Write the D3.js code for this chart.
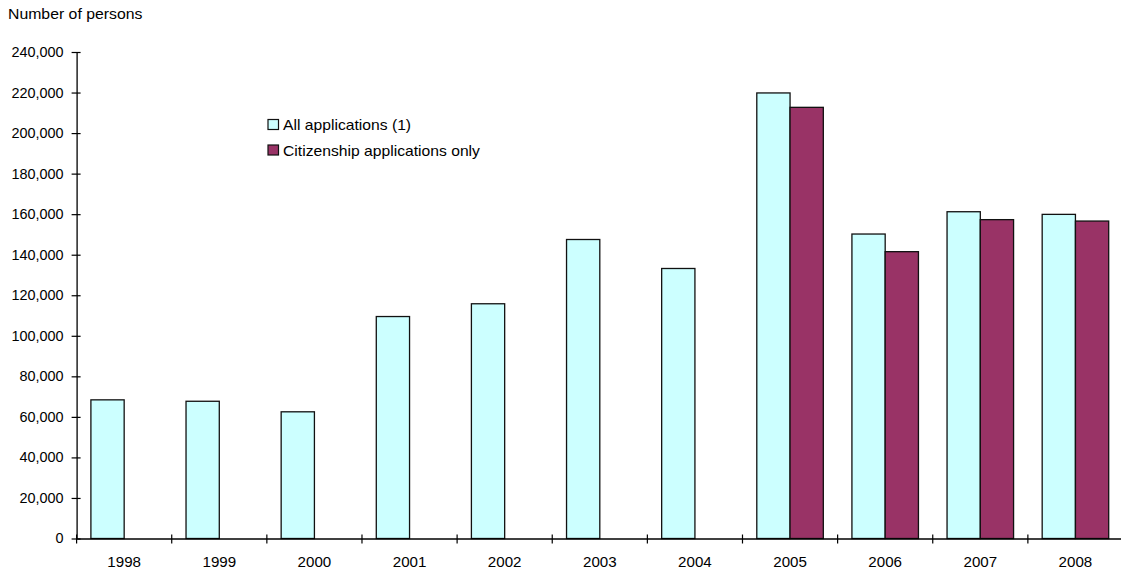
<!DOCTYPE html>
<html>
<head>
<meta charset="utf-8">
<script src="https://cdn.jsdelivr.net/npm/d3@7"></script>
<style>
  body { margin: 0; background: #fff; }
  text { font-family: "Liberation Sans", Arial, sans-serif; fill: #000; }
</style>
</head>
<body>
<div class="chart"></div>
<script>
const years = ["1998","1999","2000","2001","2002","2003","2004","2005","2006","2007","2008"];
const allApps = [68400, 67700, 62500, 109500, 115800, 147500, 133200, 219800, 150200, 161200, 159900];
const citizenApps = [null, null, null, null, null, null, null, 212700, 141500, 157300, 156600];
const seriesNames = ["All applications (1)", "Citizenship applications only"];
const seriesColors = ["#ccffff", "#993366"];
const yTicks = d3.range(0, 240001, 20000);

const width = 1121;
const height = 570;
const margin = {t:52, r:-2, b:31.5, l:76.6};
const font = "'Liberation Sans', Arial, sans-serif";

const svg = d3.select(".chart").append("svg")
  .attr("width", width)
  .attr("height", height);

const x = d3.scaleBand()
  .domain(years)
  .range([margin.l, width - margin.r])
  .paddingInner(0)
  .paddingOuter(0);

// two slots per year, 1998-2004 only fill the left one
const xSub = d3.scaleBand()
  .domain([0, 1])
  .range([0, x.bandwidth()])
  .paddingOuter(0.43)
  .paddingInner(0);

const y = d3.scaleLinear()
  .domain([0, 240000])
  .range([height - margin.b, margin.t]);

// title
svg.append("text")
  .attr("transform", "translate(8,19) scale(1.13,1)")
  .style("font-size", "14px")
  .text("Number of persons");

// bars
const rows = years.map((yr, i) => ({year: yr, vals: [allApps[i], citizenApps[i]]}));

const groups = svg.append("g").selectAll("g")
  .data(rows)
  .join("g")
  .attr("transform", d => `translate(${x(d.year)},0)`);

groups.selectAll("rect")
  .data(d => d.vals.map((v, k) => ({k, v})).filter(e => e.v != null))
  .join("rect")
  .attr("x", e => xSub(e.k))
  .attr("width", xSub.bandwidth())
  .attr("y", e => y(e.v))
  .attr("height", e => y(0) - y(e.v))
  .attr("fill", e => seriesColors[e.k])
  .attr("stroke", "#111")
  .attr("stroke-width", 1.3);

// y axis
const yAxis = svg.append("g")
  .attr("transform", `translate(${margin.l},0)`)
  .call(d3.axisLeft(y).tickValues(yTicks).tickFormat(d3.format(",")).tickSize(4).tickSizeOuter(0));
yAxis.select(".domain").attr("stroke", "#000").attr("stroke-width", 1.3);
yAxis.selectAll(".tick line").attr("x1", -5).attr("x2", 4).attr("stroke-width", 1.2);
yAxis.selectAll(".tick text")
  .attr("x", 0)
  .attr("transform", "translate(-13,0) scale(1.03,1)")
  .style("font-size", "14px")
  .style("font-family", font);

// x axis
const xAxis = svg.append("g")
  .attr("transform", `translate(0,${y(0)})`)
  .call(d3.axisBottom(x).tickSize(0).tickSizeOuter(0));
xAxis.select(".domain").attr("stroke", "#000").attr("stroke-width", 1.3);
xAxis.selectAll(".tick text")
  .attr("dy", 0)
  .attr("y", 0)
  .attr("transform", "translate(0,28) scale(1.08,1)")
  .style("font-size", "14px")
  .style("font-family", font);

// category separators on x axis
svg.append("g").selectAll("line")
  .data(years)
  .join("line")
  .attr("x1", d => x(d))
  .attr("x2", d => x(d))
  .attr("y1", y(0) - 4)
  .attr("y2", y(0) + 5)
  .attr("stroke", "#000")
  .attr("stroke-width", 1.2);

// legend
const legend = svg.append("g")
  .attr("transform", "translate(268,119.5)");
const items = legend.selectAll("g")
  .data(seriesNames)
  .join("g")
  .attr("transform", (d, i) => `translate(0,${i * 25.5})`);
items.append("rect")
  .attr("width", 10.5)
  .attr("height", 10)
  .attr("fill", (d, i) => seriesColors[i])
  .attr("stroke", "#111")
  .attr("stroke-width", 1.2);
items.append("text")
  .attr("transform", "translate(15,10.5) scale(1.12,1)")
  .style("font-size", "14px")
  .text(d => d);
</script>
</body>
</html>
